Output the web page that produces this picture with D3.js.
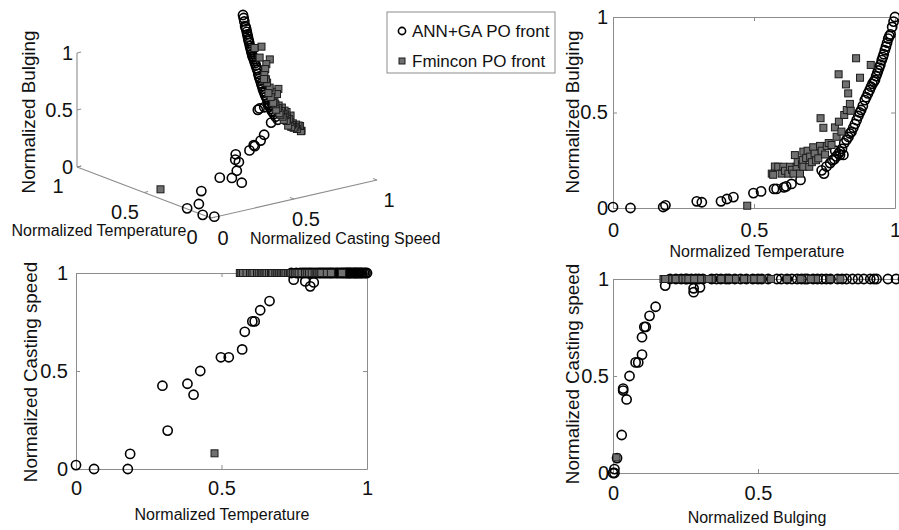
<!DOCTYPE html>
<html><head><meta charset="utf-8">
<script src="https://cdn.jsdelivr.net/npm/d3@7/dist/d3.min.js"></script>
<style>
body{margin:0;background:#fff;}
svg{display:block;font-family:"Liberation Sans",Arial,Helvetica,sans-serif;}
</style></head><body>
<svg id="c" width="899" height="530"></svg>
<script>
// ---------- DATA ----------
// ANN+GA Pareto front: normalized temperature (T), bulging (B), casting speed (C)
const annT = [0.000,0.062,0.178,0.186,0.297,0.315,0.383,0.404,0.427,0.498,0.525,0.571,0.580,0.606,0.614,0.633,0.665,0.748,0.788,0.805,0.817,
  0.740,0.757,0.770,0.778,0.785,0.792,0.800,0.805,0.812,0.820,0.828,0.835,0.840,0.846,0.852,0.858,0.864,0.870,0.875,0.880,0.886,0.893,0.898,0.904,
  0.910,0.915,0.920,0.925,0.929,0.933,0.937,0.940,0.944,0.948,0.953,0.957,0.960,0.964,0.968,0.972,0.976,0.980,0.984,0.990,0.995,1.000];
const annB = [0.005,0.000,0.005,0.014,0.035,0.030,0.035,0.047,0.057,0.078,0.087,0.100,0.100,0.108,0.113,0.126,0.147,0.180,0.300,0.278,0.278,
  0.197,0.217,0.235,0.250,0.255,0.270,0.285,0.296,0.310,0.340,0.357,0.372,0.390,0.400,0.420,0.440,0.460,0.482,0.500,0.513,0.535,0.565,0.580,0.600,
  0.617,0.635,0.650,0.662,0.670,0.690,0.705,0.720,0.735,0.750,0.774,0.790,0.805,0.826,0.845,0.865,0.887,0.900,0.909,0.948,0.976,1.000];
const annC = [0.020,0.000,0.000,0.077,0.425,0.196,0.435,0.379,0.500,0.570,0.570,0.610,0.700,0.753,0.753,0.810,0.857,0.966,0.957,0.932,0.952,
  1,1,1,1,1,1,1,1,1,1,1,1,1,1,1,1,1,1,1,1,1,1,1,1,1,1,1,1,1,1,1,1,1,1,1,1,1,1,1,1,1,1,1,1,1,1];

// Fmincon Pareto front
const fmT = [0.476,0.563,0.568,0.574,0.586,0.598,0.604,0.610,0.622,0.628,0.635,0.640,0.645,0.651,0.655,0.663,0.670,0.673,0.675,0.675,0.685,
  0.690,0.696,0.699,0.705,0.710,0.715,0.720,0.728,0.734,0.736,0.740,0.746,0.752,0.758,0.765,0.775,0.787,0.793,0.800,0.801,0.810,0.820,
  0.826,0.829,0.834,0.840,0.843,0.862,0.876,0.914];
const fmB = [0.012,0.180,0.174,0.217,0.216,0.180,0.216,0.195,0.180,0.216,0.200,0.180,0.277,0.216,0.240,0.180,0.230,0.251,0.216,0.295,0.262,
  0.300,0.216,0.269,0.240,0.318,0.285,0.250,0.260,0.325,0.470,0.300,0.420,0.280,0.325,0.340,0.330,0.422,0.373,0.700,0.452,0.400,0.487,
  0.647,0.513,0.600,0.545,0.509,0.784,0.682,0.749];
const fmC = [0.080,1,1,1,1,1,1,1,1,1,1,1,1,1,1,1,1,1,1,1,1,1,1,1,1,1,1,1,1,1,1,1,1,1,1,1,1,1,1,1,1,1,1,1,1,1,1,1,1,1,1];

const tickVals = [0, 0.5, 1];
const tickLabels = ["0", "0.5", "1"];
const seriesNames = ["ANN+GA PO front", "Fmincon PO front"];
const labelT = "Normalized Temperature";
const labelB = "Normalized Bulging";
const labelC3 = "Normalized Casting Speed";
const labelC = "Normalized Casting speed";

// ---------- BUILD ----------
const ann = annT.map((t, i) => ({t: t, b: annB[i], c: annC[i]}));
const fm = fmT.map((t, i) => ({t: t, b: fmB[i], c: fmC[i]}));

const svg = d3.select("#c");
const AX = "#8c8c8c";
const TXT = "#111";
const R = 4.6, SQ = 7;

function drawCircles(g, data, fx, fy) {
  g.append("g").selectAll("circle").data(data).join("circle")
    .attr("cx", fx).attr("cy", fy).attr("r", R)
    .attr("fill", "none").attr("stroke", "#000").attr("stroke-width", 1.6);
}
function drawSquares(g, data, fx, fy) {
  g.append("g").selectAll("rect").data(data).join("rect")
    .attr("x", d => fx(d) - SQ / 2).attr("y", d => fy(d) - SQ / 2)
    .attr("width", SQ).attr("height", SQ)
    .attr("fill", "#707070").attr("stroke", "#1c1c1c").attr("stroke-width", 1);
}
function styleAxis(sel) {
  sel.select(".domain").attr("stroke", AX);
  sel.selectAll(".tick line").attr("stroke", AX);
  sel.selectAll(".tick text").attr("fill", TXT).attr("font-size", 20);
}
const fmt = (d, i) => tickLabels[i];

function panel(cfg) {
  const x = d3.scaleLinear([0, 1], [cfg.x0, cfg.x1]);
  const y = d3.scaleLinear([0, 1], [cfg.y0, cfg.y1]);
  const g = svg.append("g");
  g.append("g").attr("transform", `translate(0,${cfg.y0})`)
    .call(d3.axisBottom(x).tickValues(tickVals).tickFormat(fmt).tickSizeInner(-4).tickSizeOuter(0).tickPadding(cfg.xpad))
    .call(styleAxis);
  g.append("g").attr("transform", `translate(0,${cfg.y1})`)
    .call(d3.axisTop(x).tickValues(tickVals).tickFormat("").tickSizeInner(-4).tickSizeOuter(0))
    .call(styleAxis);
  g.append("g").attr("transform", `translate(${cfg.x0},0)`)
    .call(d3.axisLeft(y).tickValues(tickVals).tickFormat(fmt).tickSizeInner(-4).tickSizeOuter(0).tickPadding(cfg.ypad))
    .call(styleAxis);
  g.append("g").attr("transform", `translate(${cfg.x1},0)`)
    .call(d3.axisRight(y).tickValues(tickVals).tickFormat("").tickSizeInner(-4).tickSizeOuter(0))
    .call(styleAxis);
  g.selectAll(".tick text").attr("font-size", 20);
  drawCircles(g, ann, d => x(d[cfg.fx]), d => y(d[cfg.fy]));
  drawSquares(g, fm, d => x(d[cfg.fx]), d => y(d[cfg.fy]));
  g.append("text").attr("x", cfg.xlx).attr("y", cfg.xly).attr("text-anchor", "middle")
    .attr("font-size", 16).attr("fill", TXT).text(cfg.xlabel);
  g.append("text").attr("transform", `translate(${cfg.ylx},${cfg.yly}) rotate(-90)`).attr("text-anchor", "middle")
    .attr("font-size", 18.8).attr("fill", TXT).text(cfg.ylabel);
}

// Top-right: Bulging vs Temperature
panel({x0: 613, x1: 895, y0: 208, y1: 17, fx: "t", fy: "b", xpad: 15, ypad: 5,
  xlabel: labelT, xlx: 757, xly: 257, ylabel: labelB, ylx: 579, yly: 112});
// Bottom-left: Casting speed vs Temperature
panel({x0: 76, x1: 367, y0: 469, y1: 273, fx: "t", fy: "c", xpad: 12, ypad: 8,
  xlabel: labelT, xlx: 222, xly: 520, ylabel: labelC, ylx: 37, yly: 372});
// Bottom-right: Casting speed vs Bulging
panel({x0: 613, x1: 903, y0: 473, y1: 279, fx: "b", fy: "c", xpad: 13, ypad: 4,
  xlabel: labelB, xlx: 757, xly: 523, ylabel: labelC, ylx: 579, yly: 374});

// ---------- 3D view (top-left) ----------
const O = [211, 218];
const tX = d3.scaleLinear([0, 1], [0, -134]), tY = d3.scaleLinear([0, 1], [0, -51]);
const cX = d3.scaleLinear([0, 1], [0, 166]), cY = d3.scaleLinear([0, 1], [0, -38]);
const bY = d3.scaleLinear([0, 1], [0, -114]);
const px = (t, c, b) => O[0] + tX(t) + cX(c);
const py = (t, c, b) => O[1] + tY(t) + cY(c) + bY(b);
const g3 = svg.append("g");
const axLine = (a, b) => g3.append("line").attr("x1", px(...a)).attr("y1", py(...a)).attr("x2", px(...b)).attr("y2", py(...b))
  .attr("stroke", AX).attr("stroke-width", 1.1);
axLine([0, 0, 0], [1, 0, 0]);
axLine([0, 0, 0], [0, 1, 0]);
axLine([1, 0, 0], [1, 0, 1]);
tickVals.forEach((v, i) => {
  // z ticks
  g3.append("line").attr("x1", px(1, 0, v)).attr("y1", py(1, 0, v)).attr("x2", px(1, 0.025, v)).attr("y2", py(1, 0.025, v)).attr("stroke", AX);
  g3.append("text").attr("x", px(1, 0, v) - 4).attr("y", py(1, 0, v)).attr("dy", "0.35em").attr("text-anchor", "end")
    .attr("font-size", 20).attr("fill", TXT).text(tickLabels[i]);
  // T ticks
  g3.append("line").attr("x1", px(v, 0, 0)).attr("y1", py(v, 0, 0)).attr("x2", px(v, 0.025, 0)).attr("y2", py(v, 0.025, 0)).attr("stroke", AX);
  g3.append("text").attr("x", px(v, 0, 0) - 19).attr("y", py(v, 0, 0) + 19).attr("dy", "0.35em").attr("text-anchor", "middle")
    .attr("font-size", 20).attr("fill", TXT).text(tickLabels[i]);
  // C ticks
  g3.append("line").attr("x1", px(0, v, 0)).attr("y1", py(0, v, 0)).attr("x2", px(0.03, v, 0)).attr("y2", py(0.03, v, 0)).attr("stroke", AX);
  g3.append("text").attr("x", px(0, v, 0) + 12).attr("y", py(0, v, 0) + 20).attr("dy", "0.35em").attr("text-anchor", "middle")
    .attr("font-size", 20).attr("fill", TXT).text(tickLabels[i]);
});
drawCircles(g3, ann, d => px(d.t, d.c, d.b), d => py(d.t, d.c, d.b));
drawSquares(g3, fm, d => px(d.t, d.c, d.b), d => py(d.t, d.c, d.b));
g3.append("text").attr("x", 99).attr("y", 236).attr("text-anchor", "middle").attr("font-size", 16).attr("fill", TXT).text(labelT);
g3.append("text").attr("x", 250).attr("y", 244).attr("text-anchor", "start").attr("font-size", 16).attr("fill", TXT).text(labelC3);
g3.append("text").attr("transform", "translate(35,112) rotate(-90)").attr("text-anchor", "middle")
  .attr("font-size", 18.8).attr("fill", TXT).text(labelB);

// ---------- Legend ----------
const lg = svg.append("g");
lg.append("rect").attr("x", 387).attr("y", 12).attr("width", 168).attr("height", 61)
  .attr("fill", "#fff").attr("stroke", AX).attr("stroke-width", 1);
lg.append("circle").attr("cx", 402).attr("cy", 31).attr("r", 3.6).attr("fill", "none").attr("stroke", "#000").attr("stroke-width", 1.6);
lg.append("rect").attr("x", 399).attr("y", 58).attr("width", 6).attr("height", 6).attr("fill", "#707070").attr("stroke", "#1c1c1c");
seriesNames.forEach((s, i) => {
  lg.append("text").attr("x", 412).attr("y", 37 + i * 30).attr("font-size", 17).attr("fill", TXT).text(s);
});
</script>
</body></html>
